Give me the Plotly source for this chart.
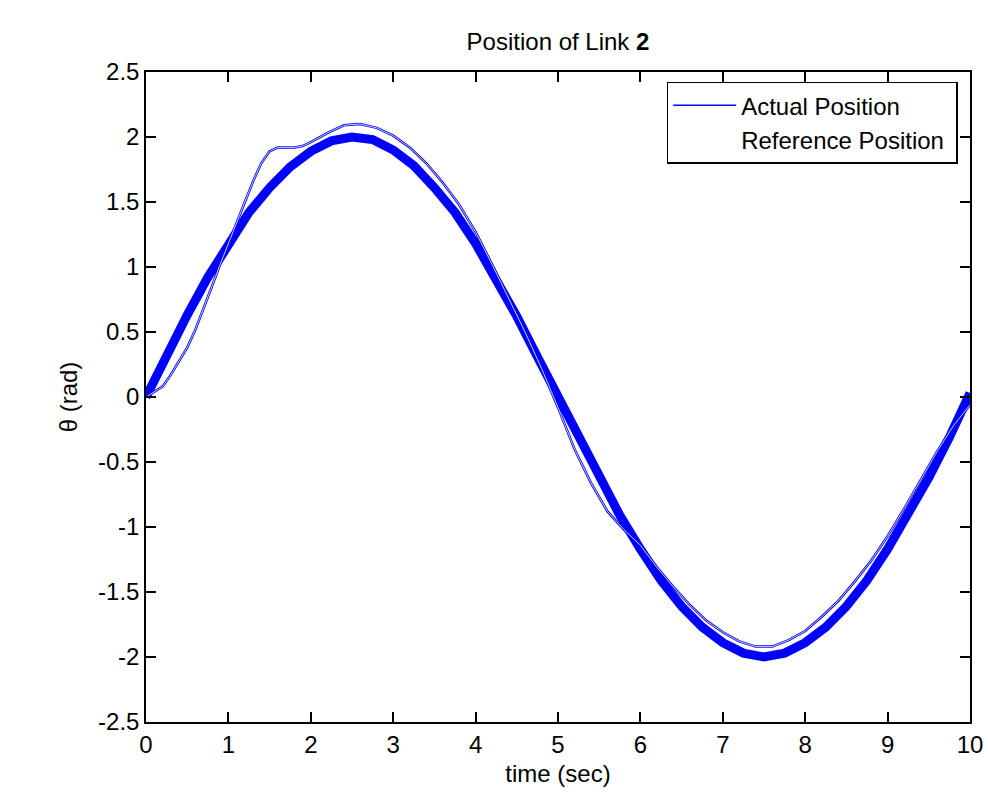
import plotly.graph_objects as go

band_t = [0, 0.25, 0.5, 0.75, 1.0, 1.25, 1.5, 1.75, 2.0, 2.25, 2.5, 2.75, 3.0, 3.25, 3.5, 3.75,
          4.0, 4.25, 4.5, 4.75, 5.0, 5.25, 5.5, 5.75, 6.0, 6.25, 6.5, 6.75, 7.0, 7.25, 7.5, 7.75,
          8.0, 8.25, 8.5, 8.75, 9.0, 9.25, 9.5, 9.75, 10.0]
band_y = [0.0, 0.32, 0.63, 0.92, 1.18, 1.42, 1.61, 1.77, 1.89, 1.97, 2.0, 1.98, 1.90, 1.78, 1.61, 1.42,
          1.18, 0.91, 0.62, 0.31, 0.0, -0.31, -0.61, -0.91, -1.17, -1.41, -1.61, -1.77, -1.89, -1.97, -2.0, -1.97,
          -1.89, -1.77, -1.61, -1.41, -1.17, -0.91, -0.62, -0.31, 0.03]

# Thin trace (first run, deviates from the band)
thin_t = [0, 0.1, 0.2, 0.3, 0.4, 0.5, 0.6, 0.7, 0.8, 0.9, 1.0, 1.1, 1.2, 1.3, 1.4, 1.5, 1.6, 1.7, 1.8, 1.9,
          2.0, 2.2, 2.4, 2.6, 2.8, 3.0, 3.2, 3.4, 3.6, 3.8, 4.0, 4.2, 4.4, 4.6, 4.8,
          5.0, 5.2, 5.4, 5.6, 5.8, 6.0, 6.2, 6.4, 6.6, 6.8, 7.0, 7.2, 7.4, 7.6, 7.8,
          8.0, 8.2, 8.4, 8.6, 8.8, 9.0, 9.2, 9.4, 9.6, 9.8, 10.0]
thin_y = [0.0, 0.04, 0.08, 0.17, 0.27, 0.38, 0.52, 0.68, 0.85, 1.02, 1.18, 1.33, 1.50, 1.66, 1.80, 1.89, 1.92, 1.92, 1.92, 1.93,
          1.96, 2.03, 2.09, 2.10, 2.07, 2.01, 1.92, 1.80, 1.65, 1.48, 1.27, 1.02, 0.76, 0.50, 0.22,
          -0.08, -0.40, -0.66, -0.88, -1.02, -1.14, -1.31, -1.46, -1.60, -1.72, -1.81, -1.88, -1.92, -1.92, -1.87,
          -1.80, -1.69, -1.57, -1.42, -1.26, -1.07, -0.86, -0.64, -0.42, -0.22, -0.06]

x_ticks = [0, 1, 2, 3, 4, 5, 6, 7, 8, 9, 10]
y_ticks = [-2.5, -2, -1.5, -1, -0.5, 0, 0.5, 1, 1.5, 2, 2.5]
y_ticktext = ["-2.5", "-2", "-1.5", "-1", "-0.5", "0", "0.5", "1", "1.5", "2", "2.5"]

BLUE = "#0000ff"
FONT = "Arial, Liberation Sans, sans-serif"

fig = go.Figure()
fig.add_trace(go.Scatter(x=band_t, y=band_y, mode="lines", line=dict(color=BLUE, width=9),
                         showlegend=False, hoverinfo="skip"))
fig.add_trace(go.Scatter(x=thin_t, y=thin_y, mode="lines", line=dict(color=BLUE, width=2.5),
                         showlegend=False, hoverinfo="skip"))
fig.add_trace(go.Scatter(x=[None], y=[None], mode="lines", line=dict(color=BLUE, width=1.5),
                         name="Actual Position"))
fig.add_trace(go.Scatter(x=thin_t, y=thin_y, mode="lines", line=dict(color="white", width=0.8),
                         name="Reference Position\u00a0"))

axis_common = dict(showgrid=False, zeroline=False, showline=True, linecolor="black", linewidth=1.5,
                   mirror="allticks", ticks="inside", ticklen=10, tickwidth=1.5, tickcolor="black",
                   automargin=False,
                   tickfont=dict(family=FONT, size=24, color="black"))

fig.update_xaxes(range=[0, 10], tickvals=x_ticks, ticktext=[str(v) for v in x_ticks],
                 title=dict(text="time (sec)", font=dict(family=FONT, size=24, color="black"), standoff=9),
                 **axis_common)
fig.update_yaxes(range=[-2.5, 2.5], tickvals=y_ticks, ticktext=y_ticktext,
                 title=dict(text="θ (rad)", font=dict(family=FONT, size=24, color="black"), standoff=14),
                 **axis_common)

fig.update_layout(
    width=988, height=794,
    margin=dict(l=146, r=18, t=72, b=72, autoexpand=False),
    paper_bgcolor="white", plot_bgcolor="white",
    title=dict(text="Position of Link <b>2</b>", x=(146 + 970) / 2 / 988, xanchor="center",
               y=1 - 42 / 794, yanchor="middle", font=dict(family=FONT, size=24, color="black")),
    legend=dict(x=0.985, xanchor="right", y=0.985, yanchor="top", bgcolor="white",
                bordercolor="black", borderwidth=1.5, font=dict(family=FONT, size=24, color="black"),
                itemwidth=63),
)

fig.write_html("out.html")
